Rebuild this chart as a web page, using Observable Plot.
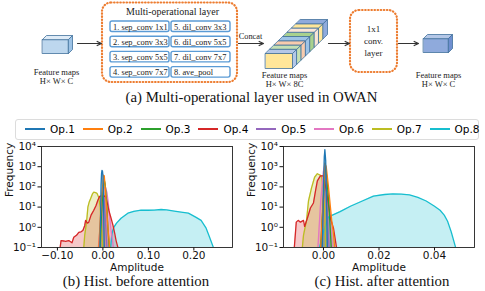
<!DOCTYPE html>
<html>
<head>
<meta charset="utf-8">
<script src="https://cdn.jsdelivr.net/npm/d3@7"></script>
<script src="https://cdn.jsdelivr.net/npm/@observablehq/plot@0.6"></script>
<style>
  html, body { margin: 0; padding: 0; background: #fff; }
  #wrap { position: relative; width: 485px; height: 291px; overflow: hidden; }
  .cap { font-family: "Liberation Serif", "Times New Roman", serif; font-size: 14.8px; color: #111; text-align: center; white-space: nowrap; line-height: 16px; }
  #legend { position: absolute; left: 15px; top: 119px; width: 464px; height: 21px; border: 1px solid #dcdcdc; border-radius: 3px; box-sizing: border-box; font-family: "DejaVu Sans", sans-serif; font-size: 10.5px; }
  .lg { position: absolute; top: 3px; line-height: 13px; white-space: nowrap; }
  .lg i { display: inline-block; width: 20px; height: 2px; vertical-align: middle; margin-right: 5px; position: relative; top: -1px; }
</style>
</head>
<body>
<div id="wrap"></div>
<script>
// ---------- data ----------
const opNames = ["Op.1","Op.2","Op.3","Op.4","Op.5","Op.6","Op.7","Op.8"];
const opColors = ["#1f77b4","#ff7f0e","#2ca02c","#d62728","#9467bd","#e377c2","#bcbd22","#17becf"];
const yTicks = [0.1, 1, 10, 100, 1000, 10000];
const beforeXTicks = [-0.10, 0.00, 0.10, 0.20];
const afterXTicks = [0.00, 0.02, 0.04];
const beforeXDomain = [-0.135, 0.285];
const afterXDomain = [-0.0144, 0.0544];

// histogram outlines [amplitude, frequency] - before attention
const before_op1 = [[-0.0065,0.1],[-0.005,5],[-0.004,120],[-0.003,450],[-0.002,650],[-0.001,620],[0,400],[0.001,60],[0.002,2],[0.003,0.1]];
const before_op2 = [[-0.009,0.1],[-0.006,2],[-0.003,30],[0,150],[0.0015,380],[0.003,360],[0.005,100],[0.008,10],[0.011,1],[0.015,0.1]];
const before_op3 = [[-0.006,0.1],[-0.003,5],[0,60],[0.003,220],[0.005,140],[0.008,20],[0.011,1],[0.014,0.1]];
const before_op4 = [[-0.094,0.1],[-0.092,0.22],[-0.086,0.21],[-0.082,0.2],[-0.075,0.22],[-0.068,0.17],[-0.064,0.32],[-0.058,0.4],[-0.053,0.56],[-0.048,0.6],[-0.044,0.7],[-0.04,1.2],[-0.038,2.2],[-0.034,1.6],[-0.031,1.8],[-0.026,4],[-0.02,7],[-0.015,12],[-0.011,22],[-0.007,34],[0,38],[0.007,31],[0.013,7],[0.018,2.8],[0.022,1.3],[0.026,0.5],[0.029,0.22],[0.033,0.1]];
const before_op5 = [[-0.008,0.1],[-0.004,3],[-0.001,50],[0.001,80],[0.004,10],[0.007,0.5],[0.009,0.1]];
const before_op6 = [[-0.01,0.1],[-0.006,1],[-0.003,10],[0,50],[0.003,90],[0.006,95],[0.009,50],[0.012,15],[0.015,3],[0.018,0.7],[0.021,0.25],[0.023,0.1]];
const before_op7 = [[-0.042,0.1],[-0.04,0.4],[-0.0375,1],[-0.035,3],[-0.033,10],[-0.03,18],[-0.026,30],[-0.023,45],[-0.02,55],[-0.016,52],[-0.013,48],[-0.009,30],[-0.006,10],[-0.004,2],[-0.002,0.4],[0,0.1]];
const before_op8 = [[0.017,0.1],[0.019,0.3],[0.021,0.6],[0.024,1.0],[0.03,1.6],[0.04,2.8],[0.055,5],[0.068,6.2],[0.084,7],[0.1,7],[0.113,7.1],[0.128,7.6],[0.14,7.3],[0.157,6.3],[0.172,5.6],[0.188,5],[0.205,3.1],[0.216,2.2],[0.227,0.9],[0.234,0.35],[0.243,0.1]];

// after attention
const after_op1 = [[-0.0004,0.1],[0,100],[0.0003,3000],[0.0005,7000],[0.0008,2000],[0.0011,20],[0.0014,0.1]];
const after_op2 = [[-0.001,0.1],[0,50],[0.0005,1500],[0.001,1000],[0.0018,100],[0.0025,10],[0.003,2],[0.0036,0.5],[0.004,0.1]];
const after_op3 = [[-0.001,0.1],[0,30],[0.0006,1500],[0.0012,300],[0.002,10],[0.0028,0.1]];
const after_op4 = [[-0.0105,0.1],[-0.0098,1.8],[-0.0091,2.2],[-0.0083,1.8],[-0.0072,2.2],[-0.0068,1.1],[-0.0058,2.8],[-0.0047,9],[-0.0036,16],[-0.0029,60],[-0.0022,200],[-0.0011,350],[0,350],[0.0011,60],[0.0025,2.8],[0.0036,0.9],[0.0047,0.1]];
const after_op5 = [[-0.0008,0.1],[0,20],[0.0005,500],[0.001,80],[0.0016,1],[0.002,0.1]];
const after_op6 = [[-0.002,0.1],[-0.001,20],[0,600],[0.0005,1400],[0.0012,300],[0.002,20],[0.0028,0.5],[0.0032,0.1]];
const after_op7 = [[-0.0076,0.1],[-0.0072,0.4],[-0.0061,2.2],[-0.0054,20],[-0.0043,90],[-0.0032,300],[-0.0022,450],[-0.0007,350],[0,60],[0.0004,9],[0.0008,0.1]];
const after_op8 = [[-0.0014,0.1],[0,0.6],[0.001,1.5],[0.0018,3.2],[0.0032,4],[0.006,6],[0.0097,11],[0.014,20],[0.018,35],[0.022,42],[0.025,45],[0.028,44],[0.031,40],[0.034,30],[0.037,20],[0.04,11],[0.042,7],[0.0435,4],[0.0447,2],[0.046,0.6],[0.0476,0.1]];

// diagram labels
const opBoxLabels = ["1. sep_conv 1x1","2. sep_conv 3x3","3. sep_conv 5x5","4. sep_conv 7x7","5. dil_conv 3x3","6. dil_conv 5x5","7. dil_conv 7x7","8. ave_pool"];
const blockColors = ["#b4c7e7","#c5e0b4","#f8cbad","#9dc3e6","#a9d18e","#fbe5d6","#ffe699","#8faadc"];

const beforeSeries = [before_op1,before_op2,before_op3,before_op4,before_op5,before_op6,before_op7,before_op8];
const afterSeries = [after_op1,after_op2,after_op3,after_op4,after_op5,after_op6,after_op7,after_op8];

// ---------- helpers ----------
const wrap = document.getElementById("wrap");
const place = (el, left, top) => { el.style.position = "absolute"; el.style.left = left + "px"; el.style.top = top + "px"; wrap.appendChild(el); return el; };
const supMap = {"-1":"⁻¹","0":"⁰","1":"¹","2":"²","3":"³","4":"⁴"};
const sup = v => "10" + supMap[String(Math.round(Math.log10(v)))];
const serif = "Liberation Serif";

// ---------- diagram (a) ----------
function poly(id, fill, pts) { return pts.map(([x, y]) => ({id, fill, x, y})); }
const polys = [];
polys.push(...poly("lc-f", "#bdd7ee", [[42,39],[68,39],[68,53],[42,53]]));
polys.push(...poly("lc-t", "#deebf7", [[42,39],[46,35],[72,35],[68,39]]));
polys.push(...poly("lc-r", "#9dc3e6", [[68,39],[72,35],[72,49],[68,53]]));
polys.push(...poly("rc-f", "#8faadc", [[423,38],[448,38],[448,52],[423,52]]));
polys.push(...poly("rc-t", "#b4c7e7", [[423,38],[427,34],[452,34],[448,38]]));
polys.push(...poly("rc-r", "#6f8fd0", [[448,38],[452,34],[452,48],[448,52]]));
const bx0 = 265, bx1 = 292, by0 = 53, by1 = 68, ddx = 35 / 8, ddy = -34 / 8;
blockColors.forEach((c, k) => {
  polys.push(...poly("bt" + k, c, [[bx0 + k*ddx, by0 + k*ddy],[bx1 + k*ddx, by0 + k*ddy],[bx1 + (k+1)*ddx, by0 + (k+1)*ddy],[bx0 + (k+1)*ddx, by0 + (k+1)*ddy]]));
  polys.push(...poly("br" + k, c, [[bx1 + k*ddx, by0 + k*ddy],[bx1 + (k+1)*ddx, by0 + (k+1)*ddy],[bx1 + (k+1)*ddx, by1 + (k+1)*ddy],[bx1 + k*ddx, by1 + k*ddy]]));
});
polys.push(...poly("bf", "#ffe699", [[bx0,by0],[bx1,by0],[bx1,by1],[bx0,by1]]));

const opBoxes = opBoxLabels.map((t, i) => {
  const col = Math.floor(i / 4), row = i % 4;
  return {t, x1: col ? 171 : 110, x2: col ? 230 : 169, y1: 21 + row * 15.2, y2: 31.5 + row * 15.2};
});

const texts = [
  {x: 56, y: 72, t: "Feature maps", s: 8.5}, {x: 56, y: 81, t: "H× W× C", s: 8.5},
  {x: 172, y: 11, t: "Multi-operational layer", s: 10},
  {x: 250, y: 36, t: "Concat", s: 8.3},
  {x: 284, y: 75, t: "Feature maps", s: 8.5}, {x: 284, y: 83.5, t: "H× W× 8C", s: 8.5},
  {x: 373, y: 29, t: "1x1", s: 9}, {x: 373, y: 41, t: "conv.", s: 9}, {x: 373, y: 53, t: "layer", s: 9},
  {x: 438, y: 75, t: "Feature maps", s: 8.5}, {x: 438, y: 83.5, t: "H× W× C", s: 8.5}
];
const arrows = [
  {x1: 77, x2: 101, y: 43}, {x1: 238, x2: 263, y: 43}, {x1: 328, x2: 349, y: 43}, {x1: 398, x2: 418, y: 43}
];

const diagram = Plot.plot({
  width: 485, height: 92, margin: 0,
  x: {domain: [0, 485], range: [0, 485], axis: null},
  y: {domain: [0, 92], range: [0, 92], axis: null},
  color: {type: "identity"},
  style: {background: "transparent"},
  marks: [
    Plot.rect([{x1: 102, x2: 237, y1: 2.5, y2: 82}], {x1: "x1", x2: "x2", y1: "y1", y2: "y2", rx: 9, fill: "white", stroke: "#ed7d31", strokeWidth: 2.2, strokeDasharray: "0.5,2.6", strokeLinecap: "round"}),
    Plot.rect([{x1: 350, x2: 397, y1: 10, y2: 72}], {x1: "x1", x2: "x2", y1: "y1", y2: "y2", rx: 9, fill: "white", stroke: "#ed7d31", strokeWidth: 2.2, strokeDasharray: "0.5,2.6", strokeLinecap: "round"}),
    Plot.rect(opBoxes, {x1: "x1", x2: "x2", y1: "y1", y2: "y2", rx: 2, fill: "white", stroke: "#5b9bd5", strokeWidth: 1.4}),
    Plot.text(opBoxes, {x: d => d.x1 + 2.5, y: d => (d.y1 + d.y2) / 2 + 0.3, text: "t", textAnchor: "start", fontFamily: serif, fontSize: 8.4, fill: "#222"}),
    Plot.line(polys, {x: "x", y: "y", z: "id", fill: "fill", stroke: "#41719c", strokeWidth: 0.8, curve: "linear-closed"}),
    Plot.arrow(arrows, {x1: "x1", x2: "x2", y1: "y", y2: "y", stroke: "#333", strokeWidth: 1.2, headLength: 6, headAngle: 50}),
    Plot.text(texts, {x: "x", y: "y", text: "t", fontSize: d => d.s, fontFamily: serif, fill: "#222"})
  ]
});
place(diagram, 0, 0);

const capA = document.createElement("div");
capA.className = "cap"; capA.style.width = "485px";
capA.textContent = "(a) Multi-operational layer used in OWAN";
place(capA, 9, 89);

// ---------- legend ----------
const legend = document.createElement("div");
legend.id = "legend";
opNames.forEach((n, i) => {
  const s = document.createElement("span");
  s.className = "lg";
  s.style.left = (9 + i * 57.8) + "px";
  s.innerHTML = `<i style="background:${opColors[i]}"></i>${n}`;
  legend.appendChild(s);
});
wrap.appendChild(legend);

// ---------- histogram panels ----------
function panel(series, xDomain, xTicks) {
  const marks = [];
  series.forEach((d, i) => {
    marks.push(Plot.areaY(d, {x: p => p[0], y1: 0.1, y2: p => p[1], fill: opColors[i], fillOpacity: 0.25, clip: true}));
  });
  for (let i = series.length - 1; i >= 0; i--) {
    marks.push(Plot.line(series[i], {x: p => p[0], y: p => p[1], stroke: opColors[i], strokeWidth: 1.3, clip: true}));
  }
  marks.push(Plot.frame({stroke: "#222", strokeWidth: 0.9}));
  marks.push(Plot.text(["Amplitude"], {frameAnchor: "bottom", dy: 23, fontSize: 10.5, fill: "#111"}));
  marks.push(Plot.text(["Frequency"], {frameAnchor: "left", dx: -32, rotate: -90, fontSize: 10.5, fill: "#111"}));
  return Plot.plot({
    width: 243, height: 150,
    marginLeft: 41, marginRight: 11, marginTop: 6, marginBottom: 43,
    style: {fontFamily: "DejaVu Sans", fontSize: "10.5px", color: "#111", background: "transparent"},
    x: {domain: xDomain, ticks: xTicks, tickFormat: d3.format(".2f"), tickSize: 3.5, tickPadding: 1, label: null},
    y: {type: "log", domain: [0.1, 10000], ticks: yTicks, tickFormat: sup, tickSize: 3.5, tickPadding: 2, label: null},
    marks
  });
}
place(panel(beforeSeries, beforeXDomain, beforeXTicks), 0, 140);
place(panel(afterSeries, afterXDomain, afterXTicks), 242, 140);

const capB = document.createElement("div");
capB.className = "cap"; capB.style.width = "200px";
capB.textContent = "(b) Hist. before attention";
place(capB, 36, 273);
const capC = document.createElement("div");
capC.className = "cap"; capC.style.width = "200px";
capC.textContent = "(c) Hist. after attention";
place(capC, 282, 273);
</script>
</body>
</html>
